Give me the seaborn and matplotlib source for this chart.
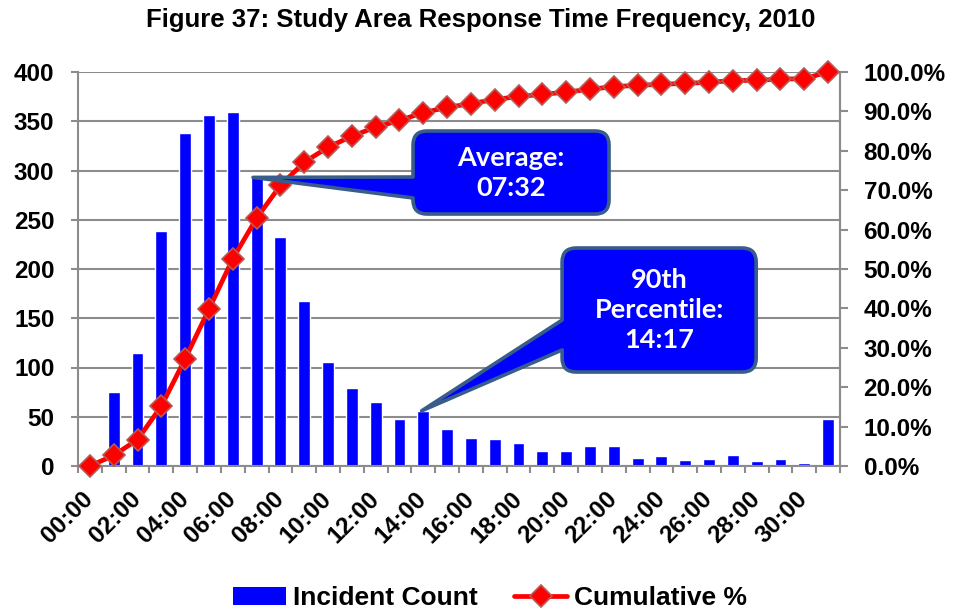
import matplotlib
matplotlib.use("Agg")
import matplotlib.pyplot as plt
import seaborn as sns
from matplotlib.path import Path
from matplotlib.patches import PathPatch, Patch
from matplotlib.lines import Line2D
from matplotlib.transforms import IdentityTransform
from matplotlib.ticker import FixedLocator, PercentFormatter

# Response time bins (minutes:seconds) and incident counts per bin
time_bins = ["00:00", "01:00", "02:00", "03:00", "04:00", "05:00", "06:00", "07:00",
             "08:00", "09:00", "10:00", "11:00", "12:00", "13:00", "14:00", "15:00",
             "16:00", "17:00", "18:00", "19:00", "20:00", "21:00", "22:00", "23:00",
             "24:00", "25:00", "26:00", "27:00", "28:00", "29:00", "30:00", "31:00"]
incident_counts = [0, 75, 115, 239, 338, 356, 359, 293, 232, 168, 106, 79, 65, 48, 56, 38,
                   28, 27, 23, 15, 15, 20, 20, 8, 10, 6, 7, 11, 5, 7, 3, 48]
cumulative_pct = [0.0, 2.7, 6.7, 15.2, 27.2, 39.8, 52.6, 62.9, 71.2, 77.1, 80.9, 83.7, 86.0,
                  87.7, 89.7, 91.0, 92.0, 93.0, 93.8, 94.3, 94.9, 95.6, 96.3, 96.6, 96.9,
                  97.1, 97.4, 97.8, 97.9, 98.2, 98.3, 100.0]
tick_labels = time_bins[::2]

avg_label = "Average:\n07:32"
p90_label = "90th\nPercentile:\n14:17"

sns.set_style("white")
plt.rcParams["font.family"] = ["Liberation Sans", "DejaVu Sans"]
plt.rcParams["font.weight"] = "bold"
plt.rcParams["text.color"] = "black"
plt.rcParams["xtick.labelcolor"] = "black"
plt.rcParams["ytick.labelcolor"] = "black"

GRID = "#8C8C8C"
BLUE = "#0000FF"
RED = "#FF0000"
OUTLINE = "#385D8A"
MARKER_EDGE = "#B65A55"

fig = plt.figure(figsize=(9.56, 6.11), dpi=100)
ax = fig.add_axes([78 / 956, 1 - 466 / 611, 762 / 956, 394 / 611])

sns.barplot(x=time_bins, y=incident_counts, order=time_bins, color=BLUE,
            saturation=1, width=0.5, ax=ax, zorder=2)
ax.set_xlim(-0.5, len(time_bins) - 0.5)
ax.set_ylim(0, 400)
ax.set_yticks(range(0, 401, 50))
ax.yaxis.grid(True, color=GRID, linewidth=1.5)
ax.xaxis.grid(False)
ax.set_axisbelow(True)
ax.set_xlabel("")
ax.set_ylabel("")

# category labels every second bin, tick marks on bin boundaries
ax.xaxis.set_major_locator(FixedLocator(range(0, len(time_bins), 2)))
ax.set_xticklabels(tick_labels, rotation=45, ha="right", va="center",
                   rotation_mode="anchor", fontsize=17.5, fontweight="bold", color="black")
ax.xaxis.set_minor_locator(FixedLocator([i - 0.5 for i in range(len(time_bins) + 1)]))
ax.tick_params(axis="x", which="major", length=0, pad=21)
ax.tick_params(axis="x", which="minor", length=5, width=1.5, color=GRID, bottom=True)
ax.tick_params(axis="y", length=5, width=1.5, color=GRID, pad=12, labelsize=17.5,
               left=True, labelcolor="black")
for lab in ax.get_yticklabels():
    lab.set_fontweight("bold")
for side in ("left", "bottom", "right"):
    ax.spines[side].set_color(GRID)
    ax.spines[side].set_linewidth(1.5)
ax.spines["top"].set_visible(False)

# cumulative percentage on the secondary axis
ax2 = ax.twinx()
sns.pointplot(x=time_bins, y=cumulative_pct, order=time_bins, color=RED, markers="D",
              ax=ax2, linewidth=3.4, markersize=11, markeredgecolor=MARKER_EDGE,
              markeredgewidth=1.2, zorder=5)
for ln in ax2.lines:
    ln.set_clip_on(False)
ax2.set_xlim(-0.5, len(time_bins) - 0.5)
ax2.set_ylim(0, 100)
ax2.set_yticks(range(0, 101, 10))
ax2.yaxis.set_major_formatter(PercentFormatter(decimals=1))
ax2.tick_params(axis="y", length=6, width=1.5, color=GRID, pad=11, labelsize=17.5,
                right=True, labelcolor="black")
for lab in ax2.get_yticklabels():
    lab.set_fontweight("bold")
ax2.set_xlabel("")
ax2.set_ylabel("")
for side in ("left", "top", "bottom"):
    ax2.spines[side].set_visible(False)
ax2.spines["right"].set_color(GRID)
ax2.spines["right"].set_linewidth(1.5)
ax2.grid(False)


def callout(axis, box, base, tip, text, radius=14):
    """Rounded callout box with a wedge pointing at tip (all positions in data units)."""
    T = axis.transData
    (X0, Y0), (X1, Y1) = T.transform([(box[0], box[2]), (box[1], box[3])])
    _, Bl = T.transform((box[0], base[0]))
    _, Bh = T.transform((box[0], base[1]))
    Tx, Ty = T.transform(tip)
    r = radius
    verts = [(X0 + r, Y1), (X1 - r, Y1), (X1, Y1), (X1, Y1 - r), (X1, Y0 + r), (X1, Y0),
             (X1 - r, Y0), (X0 + r, Y0), (X0, Y0), (X0, Y0 + r), (X0, Bl), (Tx, Ty),
             (X0, Bh), (X0, Y1 - r), (X0, Y1), (X0 + r, Y1), (X0 + r, Y1)]
    codes = [Path.MOVETO, Path.LINETO, Path.CURVE3, Path.CURVE3, Path.LINETO, Path.CURVE3,
             Path.CURVE3, Path.LINETO, Path.CURVE3, Path.CURVE3, Path.LINETO, Path.LINETO,
             Path.LINETO, Path.LINETO, Path.CURVE3, Path.CURVE3, Path.CLOSEPOLY]
    patch = PathPatch(Path(verts, codes), facecolor=BLUE, edgecolor=OUTLINE, linewidth=2.6,
                      joinstyle="round", transform=IdentityTransform(), clip_on=False,
                      zorder=4)
    fig.add_artist(patch)
    fig.text((X0 + X1) / 2 / fig.bbox.width, (Y0 + Y1) / 2 / fig.bbox.height, text,
             ha="center", va="center", color="white", fontsize=19.5, fontweight="bold",
             family=["Lato", "DejaVu Sans"], linespacing=1.3, zorder=4.5)


half = 0.25
callout(ax, (13.57, 21.80, 255.8, 340.1), (272.1, 293.4),
        (7 - half + 0.1, incident_counts[7]), avg_label)
callout(ax, (19.83, 27.98, 95.4, 221.3), (117.8, 148.2),
        (14 - half + 0.18, incident_counts[14]), p90_label)

# keep the cumulative line above the callouts
ax.set_zorder(1)
ax2.set_zorder(3)
ax2.patch.set_visible(False)

fig.suptitle("Figure 37: Study Area Response Time Frequency, 2010", x=481 / 956,
             y=1 - 20 / 611, va="center", fontsize=18.5, fontweight="bold", color="black")

handles = [Patch(facecolor=BLUE, edgecolor="none"),
           Line2D([], [], color=RED, linewidth=3.4, marker="D", markersize=11,
                  markeredgecolor=MARKER_EDGE, markeredgewidth=1.2)]
fig.legend(handles, ["Incident Count", "Cumulative %"], loc="center",
           bbox_to_anchor=(490 / 956, 1 - 598 / 611), ncol=2, frameon=False,
           prop={"size": 19, "weight": "bold"}, handlelength=2.0, handletextpad=0.25,
           columnspacing=1.4)

fig.savefig("out.png", dpi=100)
